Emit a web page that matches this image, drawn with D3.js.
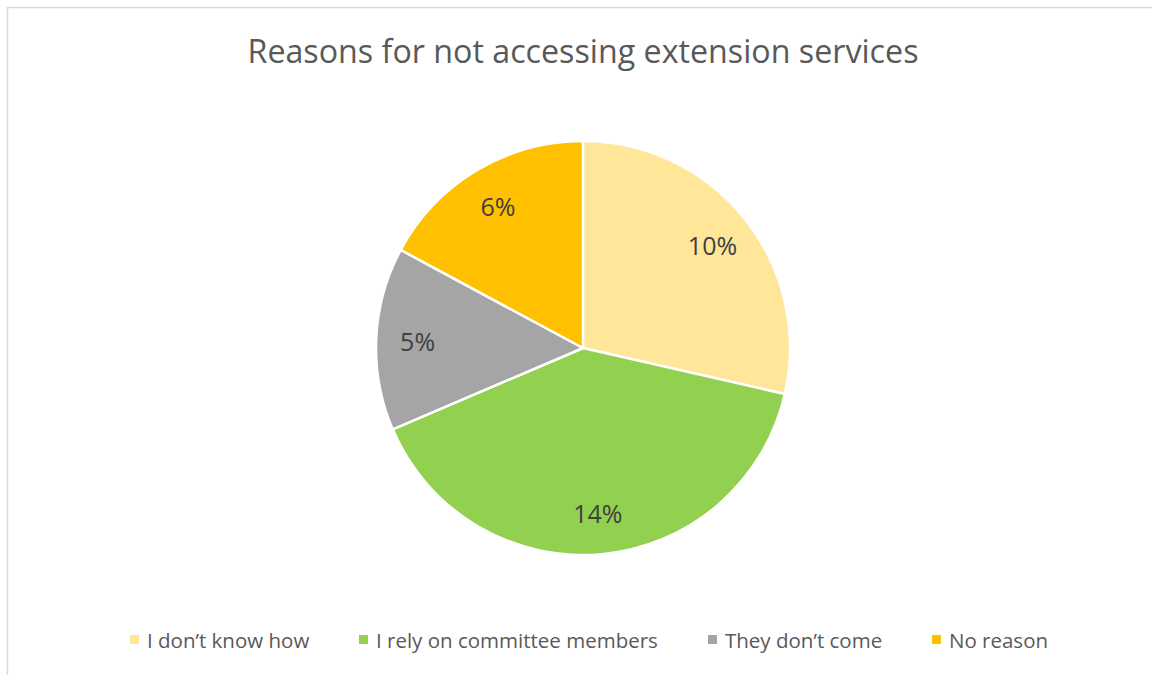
<!DOCTYPE html>
<html>
<head>
<meta charset="utf-8">
<script src="https://cdn.jsdelivr.net/npm/d3@7"></script>
<style>
  html, body { margin: 0; padding: 0; background: #fff; }
  svg { display: block; }
</style>
</head>
<body>
<svg id="chart" width="1152" height="675"></svg>
<script>
// Survey responses: reasons for not accessing extension services
const categories = ["I don\u2019t know how", "I rely on committee members", "They don\u2019t come", "No reason"];
const values = [10, 14, 5, 6];
const labels = ["10%", "14%", "5%", "6%"];
const colors = ["#FFE699", "#92D050", "#A5A5A5", "#FFC000"];

const svg = d3.select("#chart");
const W = 1152, H = 675;
const font = "'Open Sans', 'Noto Sans', sans-serif";

// Chart frame
svg.append("rect")
  .attr("x", 7.5).attr("y", 7.5)
  .attr("width", W + 10).attr("height", H + 10)
  .attr("fill", "#fff")
  .attr("stroke", "#d9d9d9").attr("stroke-width", 1.5);

// Title
svg.append("text")
  .attr("x", 583).attr("y", 63)
  .attr("text-anchor", "middle")
  .attr("font-family", font)
  .attr("font-size", 33)
  .attr("fill", "#595959")
  .attr("textLength", 671)
  .attr("lengthAdjust", "spacingAndGlyphs")
  .text("Reasons for not accessing extension services");

// Pie
const cx = 583, cy = 348, r = 207;
const pie = d3.pie().sort(null).value(d => d.value);
const arcs = pie(categories.map((c, i) => ({ cat: c, value: values[i], label: labels[i], color: colors[i] })));
const arc = d3.arc().innerRadius(0).outerRadius(r);
const labelArc = d3.arc().innerRadius(r * 0.8).outerRadius(r * 0.8);

const g = svg.append("g").attr("transform", `translate(${cx},${cy})`);
g.selectAll("path.slice")
  .data(arcs)
  .join("path")
  .attr("class", "slice")
  .attr("d", arc)
  .attr("fill", d => d.data.color)
  .attr("stroke", "#fff")
  .attr("stroke-width", 2.5)
  .attr("stroke-linejoin", "round");

g.selectAll("text.lbl")
  .data(arcs)
  .join("text")
  .attr("class", "lbl")
  .attr("transform", d => `translate(${labelArc.centroid(d)})`)
  .attr("text-anchor", "middle")
  .attr("dy", "0.4em")
  .attr("font-family", font)
  .attr("font-size", 25)
  .attr("fill", "#404040")
  .text(d => d.data.label);

// Legend
const legendX = [130, 359, 708, 932];
const legend = svg.append("g");
categories.forEach((c, i) => {
  legend.append("rect")
    .attr("x", legendX[i]).attr("y", 635)
    .attr("width", 9).attr("height", 9)
    .attr("fill", colors[i]);
  legend.append("text")
    .attr("x", legendX[i] + 17).attr("y", 648)
    .attr("font-family", font)
    .attr("font-size", 20.5)
    .attr("fill", "#595959")
    .text(c);
});
</script>
</body>
</html>
